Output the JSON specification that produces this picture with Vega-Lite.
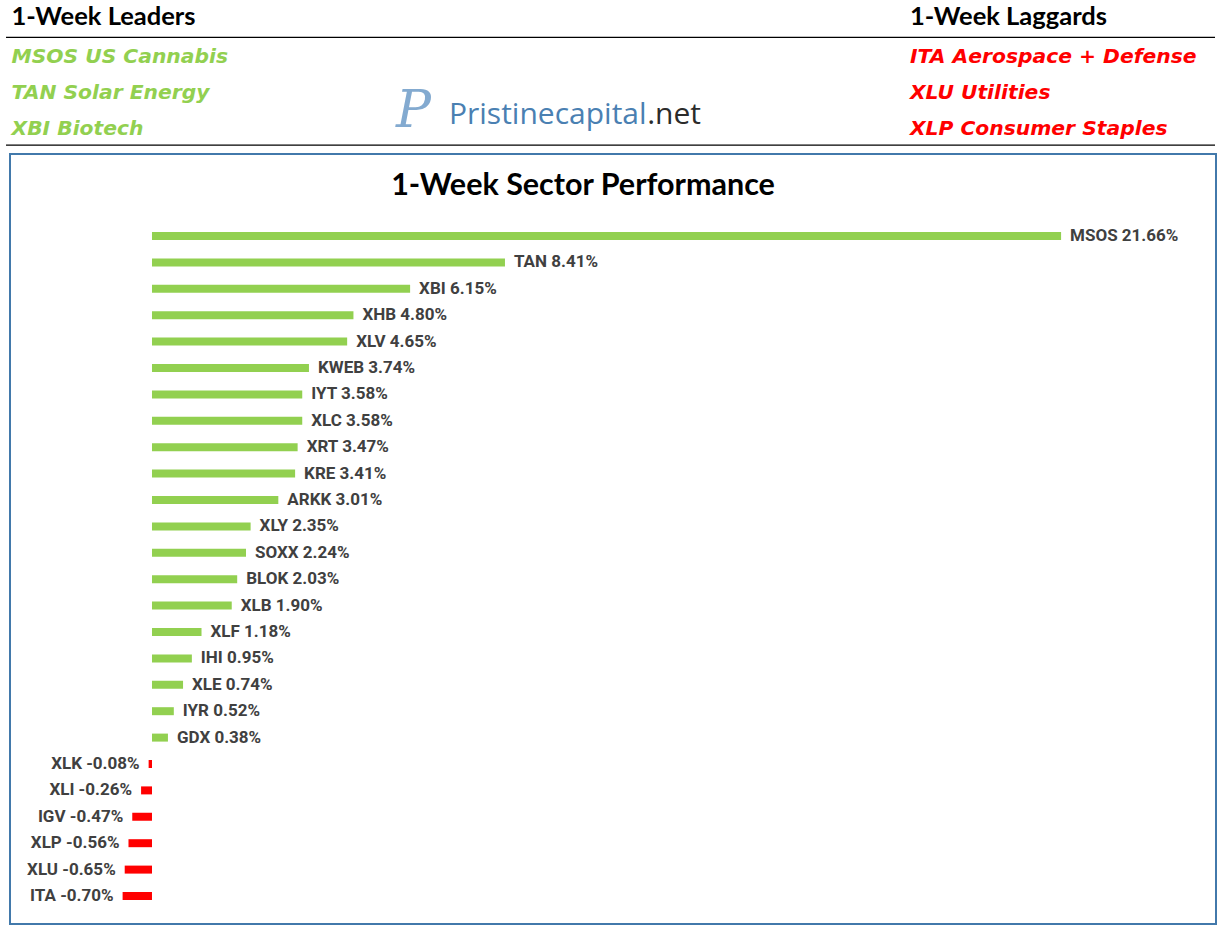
{
  "$schema": "https://vega.github.io/schema/vega-lite/v6.json",
  "background": "white",
  "padding": {"left": 5, "top": 0, "right": 0, "bottom": 0},
  "spacing": 3,
  "config": {"view": {"stroke": null}},
  "datasets": {
    "heads": [
      {"col": 0, "row": 0, "text": "1-Week Leaders"},
      {"col": 1, "row": 0, "text": "1-Week Laggards"}
    ],
    "items": [
      {"col": 0, "row": 1, "side": "lead", "text": "MSOS US Cannabis"},
      {"col": 0, "row": 2, "side": "lead", "text": "TAN Solar Energy"},
      {"col": 0, "row": 3, "side": "lead", "text": "XBI Biotech"},
      {"col": 1, "row": 1, "side": "lag", "text": "ITA Aerospace + Defense"},
      {"col": 1, "row": 2, "side": "lag", "text": "XLU Utilities"},
      {"col": 1, "row": 3, "side": "lag", "text": "XLP Consumer Staples"}
    ],
    "perf": [
      {"t": "MSOS", "v": 21.66, "label": "MSOS 21.66%"},
      {"t": "TAN", "v": 8.41, "label": "TAN 8.41%"},
      {"t": "XBI", "v": 6.15, "label": "XBI 6.15%"},
      {"t": "XHB", "v": 4.80, "label": "XHB 4.80%"},
      {"t": "XLV", "v": 4.65, "label": "XLV 4.65%"},
      {"t": "KWEB", "v": 3.74, "label": "KWEB 3.74%"},
      {"t": "IYT", "v": 3.58, "label": "IYT 3.58%"},
      {"t": "XLC", "v": 3.58, "label": "XLC 3.58%"},
      {"t": "XRT", "v": 3.47, "label": "XRT 3.47%"},
      {"t": "KRE", "v": 3.41, "label": "KRE 3.41%"},
      {"t": "ARKK", "v": 3.01, "label": "ARKK 3.01%"},
      {"t": "XLY", "v": 2.35, "label": "XLY 2.35%"},
      {"t": "SOXX", "v": 2.24, "label": "SOXX 2.24%"},
      {"t": "BLOK", "v": 2.03, "label": "BLOK 2.03%"},
      {"t": "XLB", "v": 1.90, "label": "XLB 1.90%"},
      {"t": "XLF", "v": 1.18, "label": "XLF 1.18%"},
      {"t": "IHI", "v": 0.95, "label": "IHI 0.95%"},
      {"t": "XLE", "v": 0.74, "label": "XLE 0.74%"},
      {"t": "IYR", "v": 0.52, "label": "IYR 0.52%"},
      {"t": "GDX", "v": 0.38, "label": "GDX 0.38%"},
      {"t": "XLK", "v": -0.08, "label": "XLK -0.08%"},
      {"t": "XLI", "v": -0.26, "label": "XLI -0.26%"},
      {"t": "IGV", "v": -0.47, "label": "IGV -0.47%"},
      {"t": "XLP", "v": -0.56, "label": "XLP -0.56%"},
      {"t": "XLU", "v": -0.65, "label": "XLU -0.65%"},
      {"t": "ITA", "v": -0.70, "label": "ITA -0.70%"}
    ]
  },
  "vconcat": [
    {
      "width": 1206,
      "height": 150,
      "encoding": {
        "x": {"type": "quantitative", "scale": {"domain": [-0.00167, 1.3406], "nice": false, "zero": false}, "axis": null},
        "y": {"type": "quantitative", "scale": {"domain": [-0.583, 3.583], "nice": false, "zero": false, "reverse": true}, "axis": null}
      },
      "layer": [
        {
          "data": {"name": "heads"},
          "mark": {"type": "text", "align": "left", "baseline": "middle", "dy": -4, "font": "Lato", "fontWeight": "bold", "fontSize": 25.5, "color": "#000000"},
          "encoding": {"x": {"field": "col", "type": "quantitative"}, "y": {"field": "row", "type": "quantitative"}, "text": {"field": "text"}}
        },
        {
          "data": {"name": "items"},
          "mark": {"type": "text", "align": "left", "baseline": "middle", "font": "DejaVu Sans", "fontWeight": "bold", "fontStyle": "italic", "fontSize": 20.3},
          "encoding": {
            "x": {"field": "col", "type": "quantitative"},
            "y": {"field": "row", "type": "quantitative"},
            "text": {"field": "text"},
            "color": {"field": "side", "type": "nominal", "scale": {"domain": ["lead", "lag"], "range": ["#92D050", "#FF0000"]}, "legend": null}
          }
        },
        {
          "data": {"values": [{"y": 0.453}, {"y": 3.45}]},
          "mark": {"type": "rule", "color": "#000000", "strokeWidth": 1.3},
          "encoding": {"y": {"field": "y", "type": "quantitative"}, "x": {"datum": -0.0061}, "x2": {"datum": 1.3395}}
        },
        {
          "data": {"values": [{}]},
          "mark": {"type": "text", "align": "left", "baseline": "alphabetic", "font": "DejaVu Serif", "fontStyle": "italic", "fontSize": 52, "color": "#6E9CC8", "opacity": 0.85},
          "encoding": {"x": {"datum": 0.428}, "y": {"datum": 2.95}, "text": {"value": "P"}}
        },
        {
          "data": {"values": [{}]},
          "mark": {"type": "text", "align": "left", "baseline": "alphabetic", "font": "Open Sans", "fontSize": 30, "color": "#4A80B2"},
          "encoding": {"x": {"datum": 0.4869}, "y": {"datum": 2.86}, "text": {"value": "Pristinecapital"}}
        },
        {
          "data": {"values": [{}]},
          "mark": {"type": "text", "align": "right", "baseline": "alphabetic", "font": "Open Sans", "fontSize": 30, "color": "#2B2B2B"},
          "encoding": {"x": {"datum": 0.7674}, "y": {"datum": 2.86}, "text": {"value": ".net"}}
        }
      ]
    },
    {
      "width": 1206,
      "height": 770,
      "view": {"stroke": "#4279AB", "strokeWidth": 2},
      "data": {"name": "perf"},
      "encoding": {
        "x": {"field": "v", "type": "quantitative", "axis": null, "scale": {"domain": [-3.383, 25.351], "nice": false, "zero": false}},
        "y": {"field": "t", "type": "nominal", "axis": null,
          "sort": ["MSOS","TAN","XBI","XHB","XLV","KWEB","IYT","XLC","XRT","KRE","ARKK","XLY","SOXX","BLOK","XLB","XLF","IHI","XLE","IYR","GDX","XLK","XLI","IGV","XLP","XLU","ITA"],
          "scale": {"paddingInner": 0.697, "paddingOuter": 0, "range": [78, 746]}}
      },
      "layer": [
        {
          "mark": {"type": "bar"},
          "encoding": {
            "color": {"condition": {"test": "datum.v < 0", "value": "#FF0000"}, "value": "#92D050"}
          }
        },
        {
          "transform": [{"filter": "datum.v >= 0"}],
          "mark": {"type": "text", "align": "left", "baseline": "middle", "dx": 9, "font": "Roboto", "fontWeight": "bold", "fontSize": 17, "color": "#404040"},
          "encoding": {"text": {"field": "label"}}
        },
        {
          "transform": [{"filter": "datum.v < 0"}],
          "mark": {"type": "text", "align": "right", "baseline": "middle", "dx": -9, "font": "Roboto", "fontWeight": "bold", "fontSize": 17, "color": "#404040"},
          "encoding": {"text": {"field": "label"}}
        },
        {
          "transform": [{"filter": "datum.t == 'MSOS'"}],
          "mark": {"type": "text", "align": "center", "baseline": "alphabetic", "dy": -41, "font": "Lato", "fontWeight": "bold", "fontSize": 30.5, "color": "#000000"},
          "encoding": {
            "x": {"datum": 10.27},
            "text": {"value": "1-Week Sector Performance"}
          }
        }
      ]
    }
  ]
}
